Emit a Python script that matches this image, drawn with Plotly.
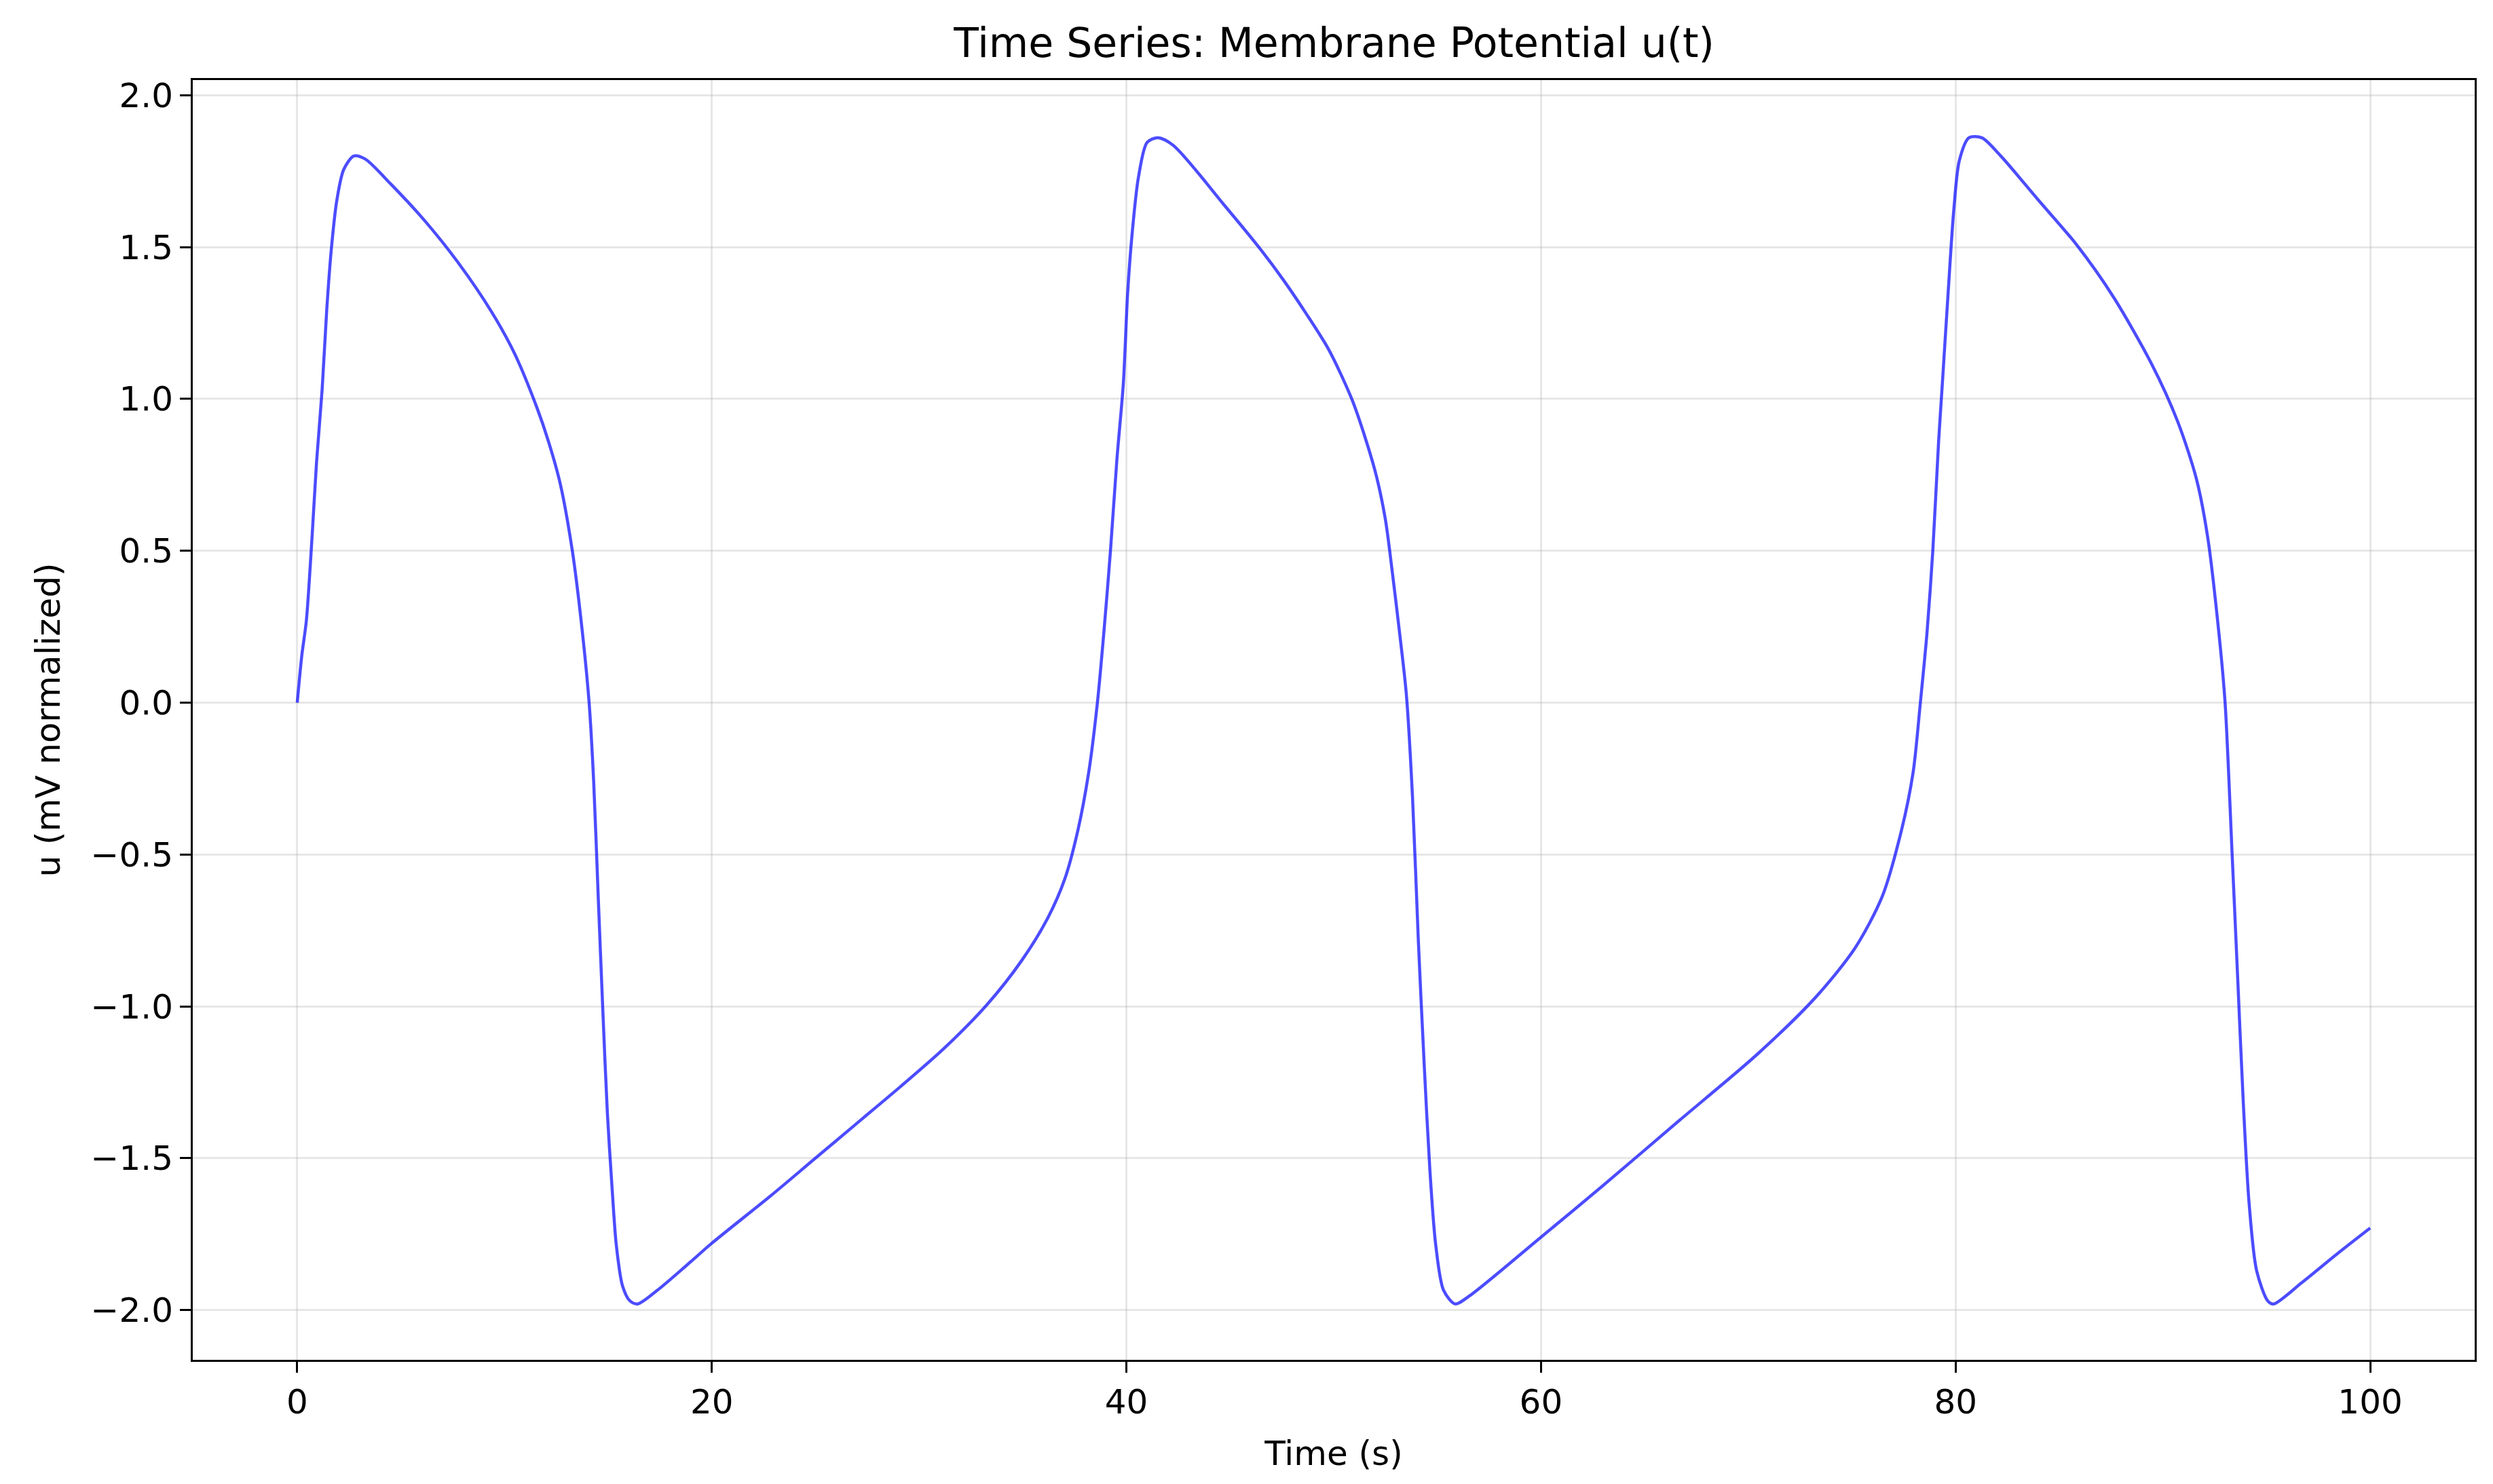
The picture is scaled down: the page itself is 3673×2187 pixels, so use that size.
import plotly.graph_objects as go

# Pontos (tempo em s, potencial normalizado)
time_s = [
    0.0, 0.22, 0.44, 0.71, 0.93, 1.2, 1.42, 1.64, 1.91, 2.24, 2.73, 3.28, 4.48,
    6.11, 7.75, 9.39, 10.48, 11.57, 12.12, 12.69, 13.27, 13.71, 14.08, 14.30,
    14.52, 14.74, 14.96, 15.18, 15.39, 15.69, 16.05, 16.42, 17.37, 18.83, 20.0,
    22.82, 24.91, 27.0, 29.09, 31.18, 33.27, 34.94, 36.2, 37.03, 37.66, 38.18,
    38.6, 38.91, 39.23, 39.54, 39.85, 40.06, 40.27, 40.58, 41.0, 41.52, 42.26,
    44.76, 46.5, 47.59, 48.68, 49.78, 50.87, 51.52, 52.07, 52.5, 52.83, 53.16,
    53.5, 53.8, 54.08, 54.36, 54.64, 54.92, 55.3, 55.86, 56.52, 60.0, 62.91,
    66.67, 70.43, 73.25, 75.13, 76.45, 77.39, 77.95, 78.3, 78.62, 78.9, 79.18,
    79.36, 79.64, 79.91, 80.18, 80.64, 81.27, 82.18, 83.99, 85.81, 87.62, 89.44,
    90.71, 91.62, 92.16, 92.7, 93.0, 93.34, 93.61, 93.88, 94.16, 94.52, 95.06,
    95.34, 96.7, 98.5, 100.0,
]
u_vals = [
    0.0, 0.155, 0.27, 0.54, 0.79, 1.03, 1.29, 1.49, 1.654, 1.755, 1.80, 1.79, 1.71,
    1.59, 1.45, 1.285, 1.15, 0.97, 0.86, 0.72, 0.50, 0.26, 0.0, -0.26,
    -0.64, -1.01, -1.35, -1.59, -1.785, -1.92, -1.97, -1.98, -1.935, -1.85, -1.78,
    -1.625, -1.505, -1.385, -1.265, -1.14, -0.995, -0.85, -0.71, -0.58, -0.42, -0.23,
    0.0, 0.23, 0.50, 0.80, 1.05, 1.35, 1.54, 1.73, 1.845, 1.86, 1.835,
    1.635, 1.49, 1.39, 1.28, 1.16, 1.0, 0.872, 0.743, 0.60, 0.428, 0.24,
    0.03, -0.31, -0.78, -1.185, -1.54, -1.785, -1.935, -1.98, -1.955, -1.76, -1.595,
    -1.376, -1.158, -0.97, -0.81, -0.64, -0.42, -0.23, 0.0, 0.23, 0.50, 0.86,
    1.05, 1.35, 1.62, 1.785, 1.86, 1.86, 1.80, 1.655, 1.51, 1.335, 1.117,
    0.926, 0.736, 0.545, 0.23, 0.0, -0.50, -0.91, -1.32, -1.65, -1.87, -1.97,
    -1.98, -1.91, -1.81, -1.73,
]

x_ticks = [0, 20, 40, 60, 80, 100]
y_ticks = [-2.0, -1.5, -1.0, -0.5, 0.0, 0.5, 1.0, 1.5, 2.0]

FONT = "DejaVu Sans"

fig = go.Figure()
fig.add_trace(go.Scatter(
    x=time_s, y=u_vals, mode="lines",
    line=dict(color="rgba(0,0,255,0.7)", width=4.5, shape="spline", smoothing=0.8),
    showlegend=False,
))

axis_common = dict(
    showline=True, linecolor="black", linewidth=3, mirror=True,
    ticks="outside", ticklen=16, tickwidth=3, tickcolor="black",
    showgrid=True, gridcolor="rgba(176,176,176,0.3)", gridwidth=3,
    zeroline=False,
    tickfont=dict(family=FONT, size=50, color="black"),
)

fig.update_layout(
    width=3673, height=2187,
    paper_bgcolor="white", plot_bgcolor="white",
    margin=dict(l=276, r=35, t=110, b=191),
    title=dict(text="Time Series: Membrane Potential u(t)", x=0.533, xanchor="center",
               y=0.975, yanchor="middle",
               font=dict(family=FONT, size=60, color="black")),
    xaxis=dict(range=[-5.04, 105.04], tickvals=x_ticks,
               title=dict(text="Time (s)", font=dict(family=FONT, size=50, color="black"),
                          standoff=30),
               **axis_common),
    yaxis=dict(range=[-2.164, 2.05], tickvals=y_ticks, tickformat=".1f",
               title=dict(text="u (mV normalized)", font=dict(family=FONT, size=50, color="black"),
                          standoff=30),
               **axis_common),
)

fig.write_html("out.html")
